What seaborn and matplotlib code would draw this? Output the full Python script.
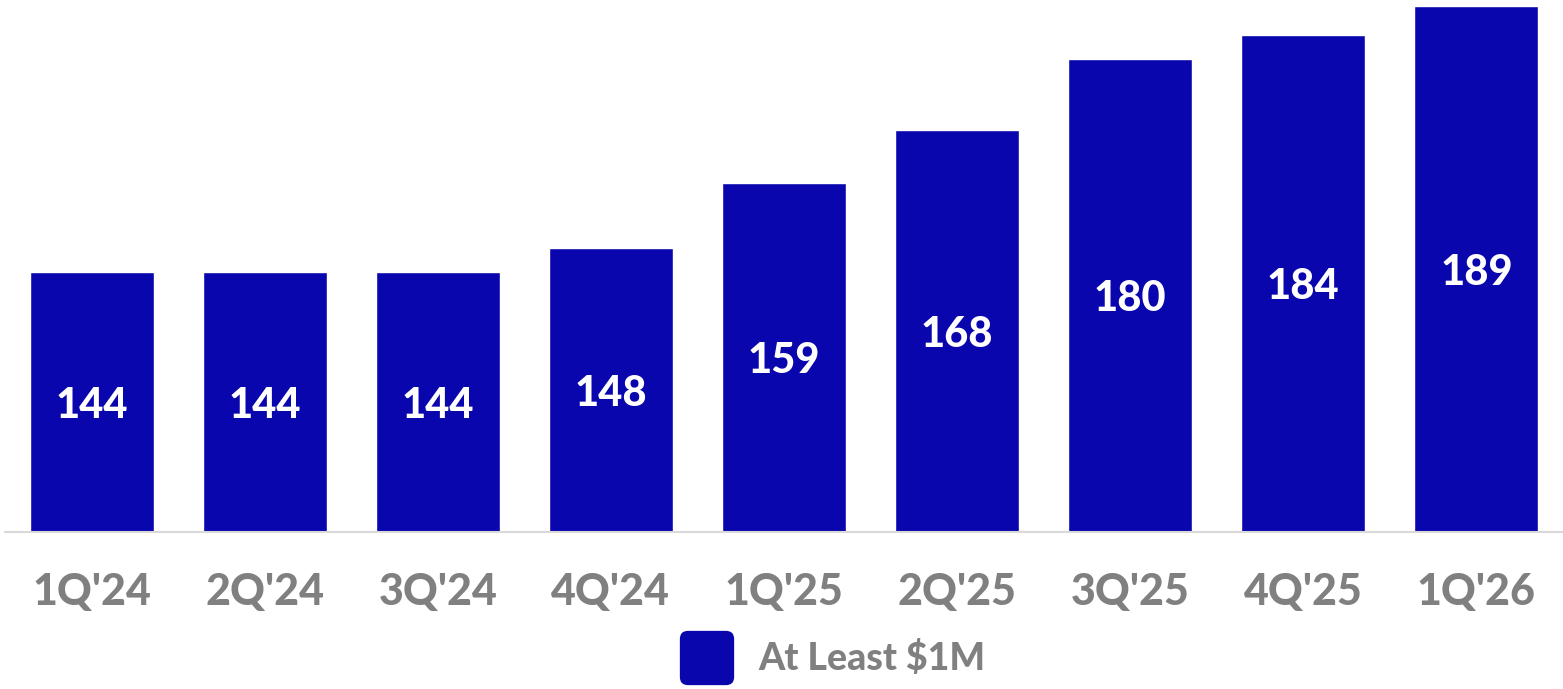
import matplotlib
matplotlib.use("Agg")
import matplotlib.pyplot as plt
from matplotlib.patches import FancyBboxPatch
from matplotlib.legend_handler import HandlerPatch
import seaborn as sns
import pandas as pd

quarters = ["1Q'24", "2Q'24", "3Q'24", "4Q'24", "1Q'25", "2Q'25", "3Q'25", "4Q'25", "1Q'26"]
customers = [144, 144, 144, 148, 159, 168, 180, 184, 189]
series_name = "At Least $1M"

BAR = "#0A06AE"
GRAY = "#808080"

sns.set_theme(style="white")
plt.rcParams['font.family'] = ['Lato', 'DejaVu Sans']

df = pd.DataFrame({"quarter": quarters, "customers": customers})

fig = plt.figure(figsize=(15.63, 6.89), dpi=100)
ax = fig.add_axes([5/1563, 157/689, 1 - 5/1563, 1 - 157/689])

sns.barplot(data=df, x="quarter", y="customers", color=BAR, saturation=1,
            width=0.716, ax=ax, label=series_name)

ax.set_ylim(100, 190)
ax.set_xlim(-0.5, 8.5)
for c in ax.containers:
    for bar, v in zip(c, customers):
        ax.text(bar.get_x() + bar.get_width() / 2, (100 + v) / 2 - 0.6, f"{v}",
                ha="center", va="center", color="white", fontsize=30,
                fontweight=900)

ax.set_xlabel("")
ax.set_ylabel("")
ax.set_yticks([])
ax.tick_params(axis="x", length=0, pad=29, labelsize=31, labelcolor=GRAY)
for t in ax.get_xticklabels():
    t.set_fontweight(900)
for s in ["top", "right", "left"]:
    ax.spines[s].set_visible(False)
ax.spines["bottom"].set_color("#D9D9D9")
ax.spines["bottom"].set_linewidth(1.5)


class RoundHandler(HandlerPatch):
    def create_artists(self, legend, orig_handle, xdescent, ydescent,
                       width, height, fontsize, trans):
        s = min(width, height)
        p = FancyBboxPatch((-xdescent + (width - s) / 2, -ydescent + (height - s) / 2), s, s,
                           boxstyle="round,pad=0,rounding_size=%f" % (s * 0.15),
                           facecolor=BAR, edgecolor="none", transform=trans)
        return [p]


handles, labels = ax.get_legend_handles_labels()
if ax.get_legend() is not None:
    ax.get_legend().remove()
leg = fig.legend(handles[:1], labels[:1], loc="center", bbox_to_anchor=(829/1563, 1 - 658/689),
                 frameon=False, prop={"size": 27, "weight": 900},
                 handler_map={handles[0]: RoundHandler()},
                 handlelength=1.85, handleheight=1.85, handletextpad=0.45)
for t in leg.get_texts():
    t.set_color(GRAY)

fig.savefig("out.png", dpi=100)
